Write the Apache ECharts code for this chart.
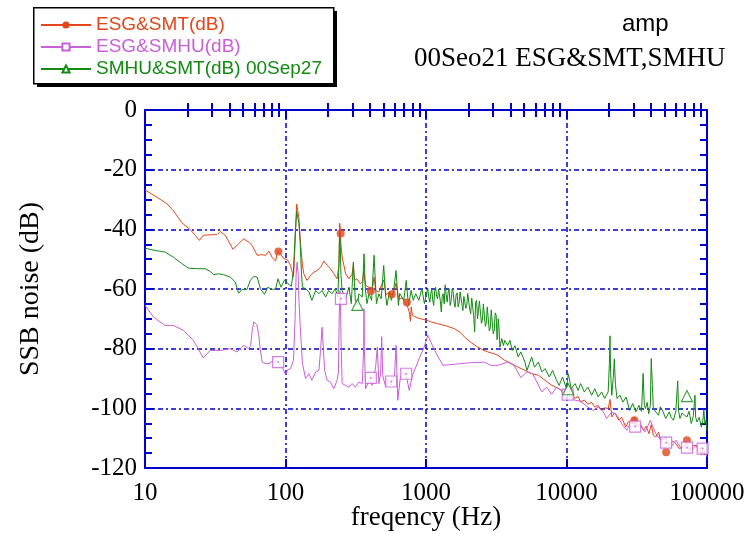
<!DOCTYPE html>
<html><head><meta charset="utf-8">
<script src="https://cdn.jsdelivr.net/npm/echarts@6/dist/echarts.min.js"></script>
<style>html,body{margin:0;padding:0;background:#fff}#c{width:744px;height:534px}</style>
</head><body><div id="c"></div>
<script>
// ---- data: [frequency (Hz), SSB noise (dB)] ----
const seriesNames = ['ESG&SMT(dB)', 'ESG&SMHU(dB)', 'SMHU&SMT(dB) 00Sep27'];
const xTickLabels = [10, 100, 1000, 10000, 100000];
const xMinorTicks = [20,30,40,50,60,70,80,90,200,300,400,500,600,700,800,900,2000,3000,4000,5000,6000,7000,8000,9000,20000,30000,40000,50000,60000,70000,80000,90000];
const yTickLabels = [0, -20, -40, -60, -80, -100, -120];

const esgSmt = [
[10,-26.8],[10.2,-27],[12.1,-29.2],[14.3,-31.4],[15.9,-33.7],[18.3,-37.8],[21,-40.1],[22.8,-42],[24.4,-43.7],[26,-42],[29.9,-41.8],[32.5,-41.8],[34.3,-40.7],[37.3,-42],[42.3,-46.7],[46.4,-44.8],[50.4,-43.2],[54.8,-44.3],[57.9,-45.4],[62.8,-48.7],[68.2,-48.5],[72.1,-48.7],[76.2,-47.3],[80.5,-49.5],[85.1,-50.6],[88.3,-47.1],[92,-48.2],[97.2,-49.8],[103,-50.2],[108.6,-52.1],[114,-56],[117,-45],[120,-31.5],[122,-31.2],[124.5,-36],[128,-45],[132,-52],[135,-54.9],[142,-57.1],[151,-55.4],[159,-54.3],[168,-53.8],[178,-52.7],[188,-50.6],[198,-52.1],[209,-53.2],[221,-54.9],[233,-56.6],[240,-52],[243,-38],[245,-39.5],[248,-45],[253,-49.3],[268,-54.9],[283,-56.6],[298,-55],[304,-52],[310,-57.1],[322,-56.6],[340,-58.2],[352,-57.7],[360,-54],[372,-58.8],[393,-59.4],[415,-59.9],[427,-56],[438,-60.5],[462,-61],[480,-59],[500,-57],[520,-62],[549,-61],[567,-62],[590,-61],[612,-58],[640,-63.5],[680,-63],[710,-64.5],[735,-65.5],[760,-67.7],[775,-70.8],[785,-66],[800,-68.8],[820,-69.4],[870,-69.7],[920,-70],[1000,-70.4],[1080,-71],[1210,-71.6],[1400,-72.4],[1590,-73.3],[1750,-74.5],[1880,-76.1],[2100,-78],[2340,-79.5],[2550,-80.5],[2760,-81.1],[3000,-81.6],[3250,-82.2],[3630,-83.9],[4060,-85],[4530,-86.2],[5060,-87.3],[5650,-88.4],[6310,-88.9],[7040,-90.6],[7860,-92.3],[8780,-93.4],[9500,-94.2],[10300,-95.6],[10900,-95],[11500,-96.7],[12100,-96],[12600,-97.9],[13400,-97.2],[14200,-98.6],[15100,-98],[15900,-99.6],[16800,-99],[17800,-100.7],[18700,-99.8],[19800,-100.1],[20400,-97],[21000,-102.9],[22000,-101.5],[23600,-104],[24700,-103],[26400,-106.3],[27500,-104.5],[29100,-104.6],[30400,-103],[31700,-106.3],[33400,-105],[35400,-107.4],[36900,-106],[38600,-108.5],[40100,-105.5],[41500,-109],[43200,-109.6],[45200,-108],[46900,-111],[48200,-111.3],[50900,-110],[53900,-112.4],[57000,-111],[60200,-111.8],[63500,-113.5],[67300,-113],[71000,-111.5],[75200,-114.1],[80000,-112.5],[84000,-112.4],[88000,-115],[91300,-113],[95000,-115.5],[100000,-115.2]
];
const esgSmtMarks = [[89,-47.4],[247,-41.4],[405,-60.7],[571,-61.8],[731,-64.5],[30400,-104],[51200,-114.7],[72000,-110.7]];

const esgSmhu = [
[10,-65.5],[10.2,-66],[11.5,-69.4],[13.9,-72.2],[15.9,-72.2],[18.8,-73.9],[22.1,-77.2],[26,-83.1],[29.1,-80.6],[34.3,-80.6],[40.5,-80],[45.2,-81.1],[50.4,-78.9],[54.8,-80],[56.5,-79],[57.9,-73.9],[59.5,-71],[61.1,-70.8],[62.5,-72],[64.4,-75],[66,-80],[68.2,-84.5],[72,-85],[76.2,-85],[82.4,-83.9],[88.7,-84.5],[94.6,-86.2],[100,-88.6],[104,-87],[108.6,-86.7],[114,-83.9],[117,-70],[119,-55],[121,-51],[123,-55],[125,-65],[127,-71.6],[132,-85],[139,-90],[147,-88.4],[154,-90.6],[164,-87.8],[173,-87.3],[178,-80],[182,-72.8],[186,-80],[190,-87.3],[198,-90.6],[209,-91.2],[221,-93.4],[233,-90.6],[238,-88],[241,-70],[244,-60.5],[246,-62],[248,-75],[253,-91.7],[268,-92.3],[283,-92.9],[298,-91.7],[314,-92.9],[333,-91.2],[352,-91.7],[360,-80],[362,-66.6],[364,-80],[372,-93.4],[393,-90.6],[415,-92.3],[438,-86.2],[450,-79.5],[462,-91.7],[475,-88.4],[484,-76],[492,-89],[517,-92.9],[536,-90],[565,-92.3],[597,-88.9],[612,-78.9],[630,-97.3],[657,-89.5],[684,-88.4],[723,-88.9],[760,-94],[800,-88.9],[820,-87.8],[900,-83],[970,-79.5],[1030,-75.5],[1150,-80.5],[1320,-85.6],[1600,-85.2],[2080,-84.7],[2610,-84.5],[2880,-85.6],[3250,-85.6],[3810,-84.5],[4240,-85.6],[4730,-89.7],[5230,-87.8],[5740,-88.4],[6680,-94.5],[7230,-92.9],[7860,-95.3],[8490,-92.9],[9180,-94],[9690,-96.7],[10300,-95.6],[11500,-97.3],[12600,-97.6],[14200,-99.6],[15500,-100.7],[16800,-99.6],[18300,-101.2],[19300,-103.4],[21000,-101.2],[22900,-102.3],[24700,-105.1],[26800,-107.4],[29100,-104],[30800,-106.1],[33400,-105.7],[36300,-107.9],[39500,-104],[43200,-108.5],[46900,-110.7],[50900,-109.6],[55400,-113],[60200,-110.7],[65400,-113.5],[71100,-112.4],[77300,-114.1],[84000,-112.4],[91300,-115.7],[96000,-114.1],[100000,-116.3]
];
const esgSmhuMarks = [[88.7,-84.5],[248,-63.3],[405,-89.8],[565,-91],[723,-88.4],[10200,-95.4],[30800,-106.1],[51200,-111.5],[72000,-113.2],[93100,-113.5]];

const smhuSmt = [
[10,-46.3],[10.2,-46.5],[11.8,-47.1],[13.9,-47.6],[15.9,-49.3],[18.3,-51.5],[20.4,-53],[23.4,-53.2],[26.8,-53.2],[29.1,-54.1],[30.7,-55.2],[33.4,-54.9],[36.2,-55.2],[40.5,-56],[43.9,-57.7],[46.4,-61.4],[49,-60.2],[53.2,-60.1],[56.2,-57.1],[59.4,-55.8],[62.8,-56],[66.3,-59.9],[70.8,-61.8],[74.8,-59.4],[80.5,-60.2],[85.1,-59.9],[88.3,-56.6],[93,-59.4],[98.4,-56.9],[104,-58.2],[110,-59.1],[114,-53.8],[117,-42],[120,-34],[122,-33.7],[124.5,-38],[127,-43.7],[130,-55],[132,-59.4],[139,-59.9],[147,-61],[154,-63.8],[164,-60.5],[173,-61.6],[182,-60.5],[193,-62.7],[203,-60.5],[214,-61.6],[226,-59.9],[236,-62.7],[240,-52],[243,-41],[245,-43],[248,-55],[253,-60.5],[268,-63.3],[283,-59.4],[294,-64.9],[304,-51],[314,-63.8],[325,-65.3],[333,-61.6],[352,-62.7],[362,-48.2],[370,-60],[380,-64.9],[393,-61.6],[410,-63.8],[427,-48.7],[444,-64.9],[462,-61.6],[480,-63.3],[500,-52.1],[515,-62],[527,-65.5],[549,-61],[567,-63.8],[590,-60],[612,-53.8],[636,-65.5],[650,-61.5],[668,-61],[695,-63.8],[723,-57.1],[750,-65.5],[784,-60.5],[811,-63.8],[845,-61.6],[889,-63.8],[935,-59.9],[974,-64.9],
[1000,-64.9],[1015,-61],[1030,-59.8],[1048,-63],[1065,-64.4],[1082,-61.5],[1100,-60.2],[1118,-64],[1135,-65.5],[1152,-61],[1170,-59.4],[1190,-62.5],[1210,-63.3],[1228,-60],[1245,-60.5],[1265,-64],[1285,-67.7],[1305,-62.5],[1325,-61.6],[1348,-65],[1370,-58.6],[1392,-62],[1415,-64.4],[1438,-61],[1460,-59.9],[1485,-65.5],[1510,-63.8],[1535,-60],[1560,-60.8],[1585,-64.5],[1610,-66.1],[1638,-62],[1665,-61.3],[1692,-66],[1720,-64.9],[1748,-61],[1775,-60.5],[1802,-65],[1830,-67.2],[1860,-62.5],[1890,-61.9],[1920,-66.5],[1950,-65.5],[1982,-61.5],[2015,-62.1],[2048,-67],[2080,-68.3],[2115,-63],[2150,-62.7],[2185,-69],[2220,-74.4],[2255,-64.5],[2290,-63.8],[2328,-70],[2365,-69.4],[2400,-64],[2440,-64.4],[2480,-71.5],[2520,-70.5],[2560,-65],[2600,-65.5],[2642,-72.5],[2685,-71.6],[2730,-66],[2775,-66.1],[2820,-74],[2865,-73.3],[2912,-67],[2960,-67.2],[3010,-75],[3060,-73.9],[3110,-68],[3160,-68.8],[3200,-77],[3230,-76.1],[3265,-70],[3300,-72],[3360,-79.5],[3460,-76.6],[3560,-79],
[3630,-77.2],[3810,-78.9],[3960,-77.2],[4110,-80.6],[4300,-79],[4530,-82.8],[4730,-81.1],[5060,-84.5],[5230,-87.3],[5650,-82.8],[5920,-86.2],[6310,-84.5],[6680,-87.8],[7040,-86.7],[7550,-89.5],[7970,-87.3],[8490,-90.6],[8860,-92.3],[9370,-89.5],[10000,-93.4],[10300,-88.4],[10800,-93.4],[11500,-91.7],[12100,-94],[12600,-91.7],[13400,-94.5],[14200,-92.9],[15100,-95.6],[15900,-93.4],[16800,-96.2],[17800,-94.5],[18700,-96.7],[19800,-94.5],[20200,-85],[20400,-75.7],[20600,-88],[21000,-95.6],[21500,-90],[21900,-83.4],[22300,-92],[22900,-96.7],[24000,-95.6],[25200,-97.9],[26600,-96.2],[28100,-100.7],[29600,-98.4],[31200,-101.2],[32800,-99],[34200,-101],[35100,-88.3],[35800,-99],[36500,-100.1],[37500,-98],[38500,-101.8],[39500,-99],[40100,-83.3],[40800,-92],[41500,-100],[43200,-101.2],[45200,-102.3],[46500,-99.5],[48200,-100.7],[50900,-103.4],[53900,-101.2],[55500,-103],[57700,-104],[60000,-101],[61900,-90.8],[62800,-101],[64200,-103.4],[66500,-101.5],[69100,-102.3],[72000,-102.9],[74500,-101],[77300,-105.1],[80000,-102.5],[82100,-95.6],[83000,-103],[85000,-104.6],[88000,-103],[91300,-106.3],[93500,-104],[95000,-100.4],[96500,-105.1],[98500,-104],[100000,-107.4]
];
const smhuSmtMarks = [[325,-65.3],[10300,-93.6],[72000,-95.9]];

// ---- styles ----
const RED = '#e2461a', VIOLET = '#c860d8', GREEN = '#138a13', BLUE = '#0000cc';
const SERIF = 'Liberation Serif', SANS = 'Liberation Sans';

const chart = echarts.init(document.getElementById('c'), null, {renderer: 'canvas'});

const tickLine = {color: BLUE, width: 2};
function mainX(pos, main) {
  return {
    type: 'log', logBase: 10, min: 10, max: 100000, position: pos,
    axisLine: {show: true, onZero: false, lineStyle: {color: BLUE, width: 2}},
    axisTick: {show: true, inside: true, length: 9, lineStyle: tickLine},
    minorTick: {show: false},
    axisLabel: main ? {show: true, margin: 13, fontFamily: SERIF, fontSize: 25, color: '#000',
      formatter: v => xTickLabels.includes(Math.round(v)) ? String(Math.round(v)) : ''} : {show: false},
    splitLine: main ? {show: true, lineStyle: {color: BLUE, width: 1.5, type: [5, 3, 2, 3]}} : {show: false},
    name: main ? 'freqency (Hz)' : '', nameLocation: 'middle', nameGap: 36, nameMoveOverlap: false,
    nameTextStyle: {fontFamily: SERIF, fontSize: 27, color: '#000'}
  };
}
// minor ticks of the log axis (2..9 of each decade), placed on a linear log10 scale
function minorX(pos) {
  return {
    type: 'value', min: 1, max: 5, position: pos,
    axisLine: {show: false}, splitLine: {show: false}, axisLabel: {show: false},
    axisTick: {show: true, inside: true, length: 7, lineStyle: tickLine,
      customValues: xMinorTicks.map(v => Math.log10(v))}
  };
}
function yAxisCfg(pos, main) {
  return {
    type: 'value', min: -120, max: 0, interval: 20, position: pos,
    axisLine: {show: true, onZero: false, lineStyle: {color: BLUE, width: 2}},
    axisTick: {show: true, inside: true, length: 9, lineStyle: tickLine},
    minorTick: {show: true, splitNumber: 4, length: 7, lineStyle: tickLine},
    axisLabel: main ? {show: true, margin: 8, fontFamily: SERIF, fontSize: 25, color: '#000',
      formatter: v => yTickLabels.includes(v) ? String(v) : ''} : {show: false},
    splitLine: main ? {show: true, lineStyle: {color: BLUE, width: 1.5, type: [5, 3, 2, 3]}} : {show: false},
    name: main ? 'SSB noise (dB)' : '', nameLocation: 'middle', nameGap: 100, nameMoveOverlap: false,
    nameTextStyle: {fontFamily: SERIF, fontSize: 28, color: '#000'}
  };
}

function lineSeries(name, data, color, symbol) {
  return {
    name, type: 'line', data, xAxisIndex: 0, yAxisIndex: 0,
    symbol, symbolSize: 8, showSymbol: false, smooth: false,
    lineStyle: {color, width: 1}, itemStyle: {color}, z: 3
  };
}
function markSeries(name, data, color, symbol, size, filled) {
  return {
    name, type: 'scatter', data, xAxisIndex: 0, yAxisIndex: 0,
    symbol, symbolSize: size,
    itemStyle: filled ? {color} : {color: '#fff', borderColor: color, borderWidth: 1.2}, z: 4
  };
}

chart.setOption({
  animation: false,
  backgroundColor: '#fff',
  grid: {left: 145, right: 37, top: 110, bottom: 66, containLabel: false, outerBoundsMode: 'none'},
  title: [
    {text: 'amp', left: 617, top: 7, textStyle: {fontFamily: SANS, fontSize: 24, fontWeight: 'normal', color: '#000'}},
    {text: '00Seo21 ESG&SMT,SMHU', left: 409, top: 40, textStyle: {fontFamily: SERIF, fontSize: 27, fontWeight: 'normal', color: '#000'}}
  ],
  graphic: [
    {type: 'rect', left: 37, top: 11, shape: {width: 300, height: 76}, style: {fill: '#000'}, z: 1},
    {type: 'rect', left: 33, top: 7, shape: {width: 300, height: 76}, style: {fill: '#fff', stroke: '#000', lineWidth: 1.5}, z: 2}
  ],
  legend: {
    orient: 'vertical', left: 33, top: 7, z: 10,
    data: seriesNames.map((n, i) => ({name: n, textStyle: {color: [RED, VIOLET, GREEN][i]}})),
    padding: [8, 12, 4, 7], itemGap: 2, itemWidth: 50, itemHeight: 9,
    textStyle: {fontFamily: SANS, fontSize: 19, lineHeight: 20},
    selectedMode: false
  },
  xAxis: [mainX('bottom', true), mainX('top', false), minorX('bottom'), minorX('top')],
  yAxis: [yAxisCfg('left', true), yAxisCfg('right', false)],
  series: [
    lineSeries(seriesNames[0], esgSmt, RED, 'circle'),
    lineSeries(seriesNames[1], esgSmhu, VIOLET, 'emptyRect'),
    lineSeries(seriesNames[2], smhuSmt, GREEN, 'emptyTriangle'),
    markSeries('m1', esgSmtMarks, RED, 'circle', 8, true),
    markSeries('m2', esgSmhuMarks, VIOLET, 'rect', 11, false),
    markSeries('m2dot', esgSmhuMarks, VIOLET, 'circle', 2, true),
    markSeries('m3', smhuSmtMarks, GREEN, 'triangle', 11, false)
  ]
});
</script>
</body></html>
